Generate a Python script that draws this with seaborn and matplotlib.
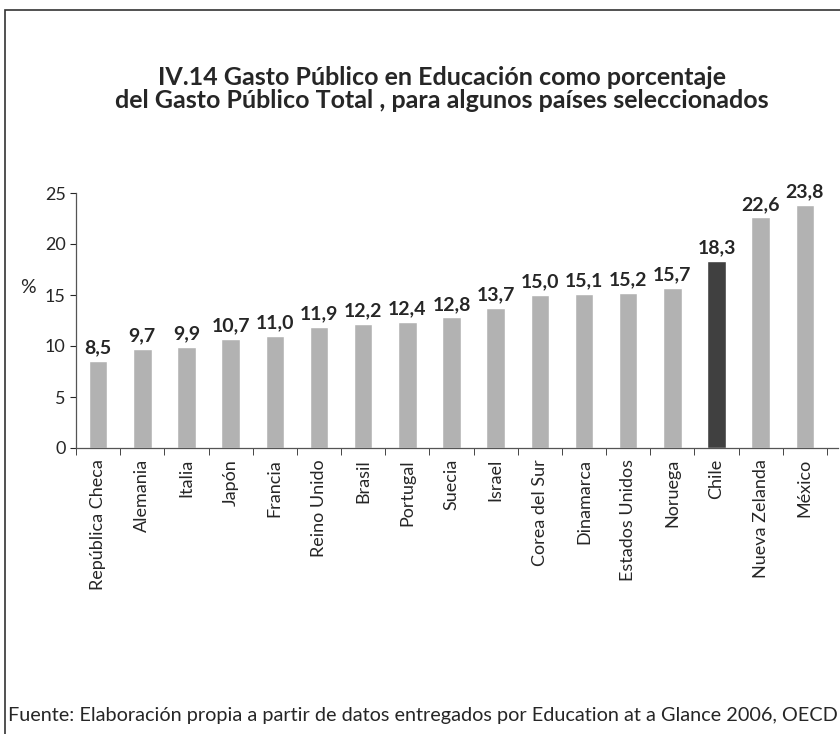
import numpy as np
import matplotlib.pyplot as plt
import seaborn as sns
from matplotlib.patches import Rectangle

# Datos
paises = ["República Checa", "Alemania", "Italia", "Japón", "Francia", "Reino Unido",
          "Brasil", "Portugal", "Suecia", "Israel", "Corea del Sur", "Dinamarca",
          "Estados Unidos", "Noruega", "Chile", "Nueva Zelanda", "México"]
gasto = [8.5, 9.7, 9.9, 10.7, 11.0, 11.9, 12.2, 12.4, 12.8, 13.7, 15.0, 15.1,
         15.2, 15.7, 18.3, 22.6, 23.8]
destacado = "Chile"

sns.set_style("white")
plt.rcParams['font.family'] = ['Lato', 'DejaVu Sans']

colores = {p: ('#404040' if p == destacado else '#b2b2b2') for p in paises}

fig = plt.figure(figsize=(8.4, 7.34), dpi=100)
ax = fig.add_axes([76 / 840, 1 - 448 / 734, (838 - 76) / 840, (448 - 193) / 734])

sns.barplot(x=paises, y=gasto, hue=paises, palette=colores, legend=False,
            width=0.42, saturation=1, ax=ax)

# Etiquetas de valor con coma decimal
etiquetas = [f"{v:.1f}".replace(".", ",") for v in gasto]
for i, v in enumerate(gasto):
    ax.text(i, v + 0.45, etiquetas[i], ha='center', va='bottom',
            fontsize=14, fontweight='bold')

ax.set_ylim(0, 25)
ax.set_xlim(-0.5, 16.75)
ax.set_yticks(range(0, 26, 5))
ax.tick_params(axis='y', labelsize=13, length=4, direction='out', left=True)
ax.set_xticks(range(len(paises)))
ax.set_xticklabels(paises, rotation=90, fontsize=13)
ax.set_xticks(np.arange(-0.5, len(paises), 1), minor=True)
ax.tick_params(axis='x', which='major', length=0, pad=8)
ax.tick_params(axis='x', which='minor', length=5, direction='out', bottom=True)

for s in ['top', 'right']:
    ax.spines[s].set_visible(False)
for s in ['left', 'bottom']:
    ax.spines[s].set_color('#555555')
    ax.spines[s].set_linewidth(0.9)

ax.set_ylabel("%", rotation=0, fontsize=14, va='center')
ax.yaxis.set_label_coords(-0.063, 0.63)

fig.text(442 / 840, 1 - 89 / 734,
         "IV.14 Gasto Público en Educación como porcentaje\n"
         "del Gasto Público Total , para algunos países seleccionados",
         ha='center', va='center', fontsize=18, fontweight='bold', linespacing=0.98)

fig.text(8 / 840, 1 - 716 / 734,
         "Fuente: Elaboración propia a partir de datos entregados por Education at a Glance 2006, OECD",
         ha='left', va='center', fontsize=14.3)

fig.patches.append(Rectangle((5 / 840, -0.1), 1.2, 1 - 10 / 734 + 0.1,
                             transform=fig.transFigure, fill=False,
                             edgecolor='#333333', linewidth=1.2))

plt.savefig('out.png', dpi=100)
